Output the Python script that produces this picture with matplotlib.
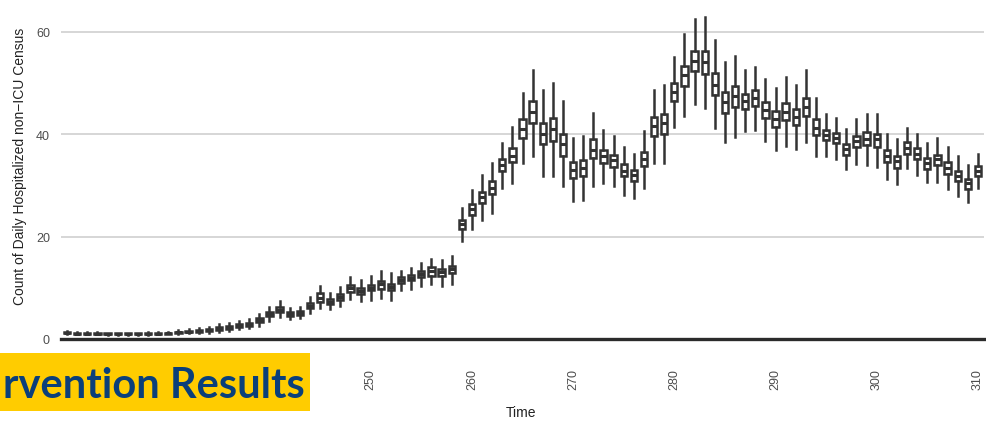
import matplotlib
matplotlib.use('Agg')
import matplotlib.pyplot as plt
from matplotlib.patches import Rectangle

#days on the x axis (one box per day)
days = list(range(220, 311))

#whisker low, lower quartile, median, upper quartile, whisker high
lo = [1.0, 0.9, 0.9, 0.9, 0.8, 0.8, 0.8, 0.8, 0.8, 0.9, 0.9, 1.0, 1.1, 1.1, 1.2, 1.4, 1.6, 1.9, 2.1, 2.6,
      3.6, 4.2, 3.9, 4.1, 5.1, 6.0, 5.9, 6.5, 7.8, 7.4, 7.7, 8.0, 7.7, 9.5, 9.8, 10.3, 10.8, 10.4, 10.8,
      19.1, 21.4, 23.3, 24.6, 29.5, 30.4, 34.4, 35.7, 31.8, 31.9, 29.8, 26.9, 27.2, 29.8, 30.4, 29.8,
      28.2, 27.6, 29.5, 34.4, 34.4, 41.4, 43.5, 45.8, 45.2, 41.2, 38.4, 39.5, 40.6, 40.9, 38.6, 36.9,
      37.7, 37.2, 38.4, 35.7, 35.8, 35.2, 33.2, 34.1, 33.9, 33.6, 31.3, 30.2, 33.4, 32.1, 30.6, 30.6,
      29.3, 28.0, 26.7, 29.5]
q1 = [1.1, 1.0, 1.0, 1.0, 0.9, 0.9, 0.9, 0.9, 0.95, 1.0, 1.0, 1.2, 1.3, 1.4, 1.5, 1.8, 2.0, 2.3, 2.6, 3.3,
      4.4, 5.2, 4.5, 4.7, 6.0, 7.3, 6.8, 7.7, 9.2, 8.8, 9.5, 9.8, 9.6, 11.0, 11.5, 12.1, 12.4, 12.4, 12.8,
      21.4, 24.3, 26.6, 28.4, 32.8, 34.5, 39.3, 42.2, 38.0, 38.6, 35.8, 31.5, 31.9, 35.4, 34.3, 33.6,
      31.8, 30.8, 33.7, 39.7, 40.1, 46.4, 49.5, 52.3, 51.7, 47.6, 44.2, 45.4, 45.0, 45.5, 43.2, 41.4,
      42.7, 41.7, 43.5, 39.9, 38.8, 38.2, 36.0, 37.5, 37.8, 37.5, 34.5, 33.4, 36.2, 35.1, 33.2, 33.9,
      32.3, 30.8, 29.3, 31.9]
med = [1.2, 1.05, 1.05, 1.05, 0.95, 0.95, 0.95, 1.0, 1.0, 1.05, 1.1, 1.3, 1.4, 1.6, 1.7, 2.0, 2.3, 2.6, 2.9, 3.7,
       4.8, 5.7, 4.9, 5.1, 6.5, 8.1, 7.3, 8.3, 9.9, 9.4, 10.0, 10.7, 10.2, 11.5, 12.0, 12.6, 13.2, 13.0, 13.6,
       22.4, 25.3, 27.8, 29.5, 33.9, 35.8, 41.0, 44.3, 40.1, 41.0, 38.0, 33.0, 33.4, 37.0, 35.7, 34.9,
       32.9, 32.0, 35.1, 41.6, 42.1, 48.2, 51.5, 54.3, 54.1, 49.7, 46.3, 47.4, 46.4, 47.1, 44.7, 43.0,
       44.4, 43.4, 45.4, 41.2, 39.9, 39.3, 37.2, 38.6, 39.1, 39.0, 35.7, 34.7, 37.3, 36.2, 34.3, 35.1,
       33.4, 31.8, 30.4, 32.8]
q3 = [1.4, 1.2, 1.2, 1.2, 1.1, 1.1, 1.1, 1.1, 1.15, 1.2, 1.25, 1.45, 1.6, 1.8, 1.9, 2.3, 2.6, 2.9, 3.2, 4.1,
      5.3, 6.3, 5.3, 5.5, 7.1, 9.0, 7.8, 8.8, 10.5, 10.0, 10.6, 11.3, 10.8, 12.1, 12.5, 13.2, 14.1, 13.6, 14.3,
      23.3, 26.4, 28.7, 30.8, 35.1, 37.3, 42.9, 46.4, 42.2, 43.2, 40.1, 34.6, 34.9, 39.0, 36.9, 36.0,
      34.1, 33.1, 36.6, 43.4, 44.0, 50.0, 53.4, 56.3, 56.2, 52.0, 48.2, 49.4, 47.9, 48.6, 46.3, 44.5,
      46.1, 45.0, 47.1, 42.9, 40.9, 40.3, 38.0, 39.7, 40.4, 40.1, 36.9, 35.7, 38.4, 37.3, 35.4, 36.0,
      34.5, 32.8, 31.3, 33.7]
hi = [1.5, 1.3, 1.3, 1.3, 1.2, 1.2, 1.2, 1.2, 1.3, 1.3, 1.4, 1.7, 1.9, 2.2, 2.4, 2.9, 3.2, 3.6, 3.9, 4.9,
      6.2, 7.4, 6.1, 6.3, 8.3, 10.4, 8.9, 10.1, 12.1, 11.6, 12.4, 13.2, 12.9, 13.2, 13.9, 14.9, 15.7, 15.5, 16.2,
      25.6, 29.1, 32.1, 34.4, 38.3, 41.4, 48.1, 52.6, 48.7, 50.0, 46.4, 39.3, 39.6, 44.2, 40.8, 39.7,
      37.5, 36.2, 40.6, 48.7, 49.7, 55.1, 59.5, 62.5, 62.9, 58.4, 54.1, 55.2, 52.5, 53.2, 50.7, 49.1,
      51.2, 49.7, 52.6, 47.1, 44.0, 43.2, 41.1, 43.0, 44.0, 44.0, 40.1, 39.0, 41.2, 40.1, 38.2, 39.3,
      37.5, 35.7, 33.9, 36.2]

yticks = [0, 20, 40, 60]
xticks = [250, 260, 270, 280, 290, 300, 310]

W, H = 986, 427
fig = plt.figure(figsize=(W / 100, H / 100), dpi=100)
plt.rcParams['font.family'] = ['Liberation Sans', 'DejaVu Sans']

#panel placed in pixels: left edge 61px, 923px wide, bottom at 340px from the top
ax = fig.add_axes([61 / W, (H - 340) / H, 923 / W, 340 / H])

#build the box statistics for bxp
stats = []
for i in range(len(days)):
    stats.append({'whislo': lo[i], 'q1': q1[i], 'med': med[i], 'q3': q3[i], 'whishi': hi[i], 'fliers': []})

dark = '#333333'
ax.bxp(stats, positions=days, widths=0.62, showcaps=False, patch_artist=True, manage_ticks=False,
       boxprops={'facecolor': 'white', 'edgecolor': dark, 'linewidth': 1.8},
       medianprops={'color': dark, 'linewidth': 2.2},
       whiskerprops={'color': dark, 'linewidth': 1.8}, zorder=3)

ax.set_xlim(219.4, 310.6)
ax.set_ylim(0, 66.4)
ax.set_yticks(yticks)
ax.set_xticks(xticks)
ax.set_xticklabels([str(t) for t in xticks], rotation=90)
ax.tick_params(axis='both', length=0, labelsize=9, labelcolor='#4d4d4d')
ax.tick_params(axis='x', pad=21)
ax.tick_params(axis='y', pad=8)
ax.grid(axis='y', color='#cfcfcf', linewidth=1.2)
ax.set_axisbelow(True)
for s in ['top', 'right', 'left']:
    ax.spines[s].set_visible(False)
ax.spines['bottom'].set_color('#2b2b2b')
ax.spines['bottom'].set_linewidth(2.4)
ax.spines['bottom'].set_zorder(4)

#axis titles
fig.text(521 / W, 1 - 413 / H, 'Time', ha='center', va='center', fontsize=10, color='#222222')
fig.text(20 / W, 1 - 305 / H, 'Count of Daily Hospitalized non\u2212ICU Census', rotation=90,
         ha='center', va='bottom', fontsize=10, color='#222222')

#slide banner overlapping the bottom left
fig.patches.append(Rectangle((0, 1 - 412 / H), 310 / W, 58 / H, transform=fig.transFigure,
                             facecolor='#FFCC00', edgecolor='none', zorder=5))
fig.text(305 / W, 1 - 398 / H, 'rvention Results', ha='right', va='baseline', fontsize=30,
         fontweight='bold', family=['Lato', 'DejaVu Sans'], color='#0A3F7A', zorder=6)

plt.savefig('out.png', dpi=100)
